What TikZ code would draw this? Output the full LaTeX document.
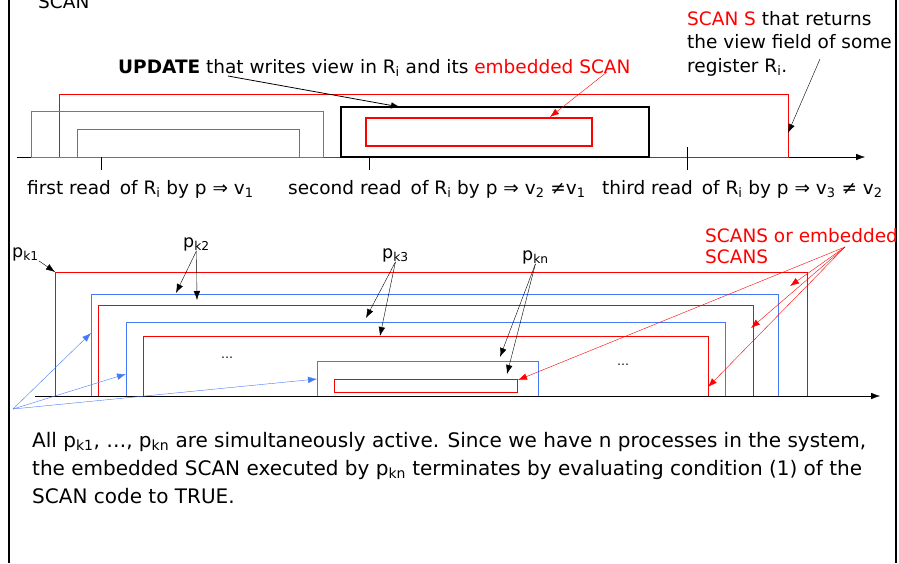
\documentclass[tikz,border=0pt]{standalone}
\usepackage{fontspec}
\setmainfont{DejaVu Sans}
\usepackage{xcolor}
\usetikzlibrary{arrows.meta}

\definecolor{pblue}{RGB}{70,120,250}
\definecolor{pgreen}{RGB}{50,150,90}

\begin{document}
\begin{tikzpicture}[x=1pt,y=-1pt,
        lbl/.style={anchor=base west,inner sep=0pt,font=\fontsize{18.5}{22}\selectfont},
        plbl/.style={anchor=base west,inner sep=0pt,font=\fontsize{17.5}{20}\selectfont},
        txt/.style={anchor=base west,inner sep=0pt,font=\fontsize{20}{24}\selectfont},
        dots/.style={inner sep=0pt,font=\fontsize{12}{14}\selectfont},
        arr/.style={-{Latex[length=9pt,width=6.5pt]}}]
    \useasboundingbox (0,0) rectangle (899,563);

    % frame
    \draw[line width=1.6pt] (9,0) -- (9,563) (896,0) -- (896,563);

    % upper time line
    \node[lbl] (scan) at (38,8) {SCAN};
    \node[lbl] (upd) at (118,73) {\textbf{UPDATE} that writes view in R\textsubscript{i} and its \textcolor{red}{embedded SCAN}};
    \node[lbl] (s1) at (687,25) {\textcolor{red}{SCAN S} that returns};
    \node[lbl] (s2) at (687,48) {the view field of some};
    \node[lbl] (s3) at (687,72) {register R\textsubscript{i}.};

    \coordinate (t0) at (17,157);
    \coordinate (t1) at (865,157);
    \draw[arr] (t0) -- (t1);

    \draw[red,semithick] (59,157) rectangle (788,94);
    \draw[pblue,thick] (31,157) rectangle (323,111);
    \draw[pgreen,thick] (77,157) rectangle (299,129);
    \draw[line width=2.4pt] (341,157) rectangle (649,107);
    \draw[red,line width=1.8pt] (366,146) rectangle (592,118);

    \draw (101,157) -- (101,170) (369,157) -- (369,170) (687,147) -- (687,170);

    \node[lbl] (r1) at (27,194) {first read\, of R\textsubscript{i} by p ⇒ v\textsubscript{1}};
    \node[lbl] (r2) at (288,194) {second read\, of R\textsubscript{i} by p ⇒ v\textsubscript{2} ≠v\textsubscript{1}};
    \node[lbl] (r3) at (602,194) {third read\, of R\textsubscript{i} by p ⇒ v\textsubscript{3} ≠ v\textsubscript{2}};

    \coordinate (that) at (228,76);
    \coordinate (ub) at (400,107);
    \coordinate (emb) at (607,72);
    \coordinate (eb) at (550,117);
    \coordinate (ss) at (820,59);
    \coordinate (sb) at (788,133);
    \draw[arr,thick] (that) -- (ub);
    \draw[arr,red] (emb) -- (eb);
    \draw[arr] (ss) -- (sb);

    % lower time line
    \coordinate (b0) at (35,396);
    \coordinate (b1) at (880,396);
    \draw[arr] (b0) -- (b1);

    \draw[red,thick] (55,396) |- (807,272) -- (807,396);
    \draw[pblue,thick] (91,396) |- (778,294) -- (778,396);
    \draw[red,thick] (98,396) |- (753,305) -- (753,396);
    \draw[pblue,thick] (126,396) |- (725,322) -- (725,396);
    \draw[red,thick] (143,396) |- (708,336) -- (708,396);
    \draw[pblue,thick] (317,396) |- (538,361) -- (538,396);
    \draw[red,thick] (334,379) rectangle (517,392);

    \node[dots] (d1) at (227,358) {…};
    \node[dots] (d2) at (623,365) {…};

    \node[plbl] (pk1) at (12,257) {p\textsubscript{k1}};
    \node[plbl] (pk2) at (183,247) {p\textsubscript{k2}};
    \node[plbl] (pk3) at (382,258) {p\textsubscript{k3}};
    \node[plbl] (pkn) at (522,260) {p\textsubscript{kn}};
    \node[lbl,red] (sc1) at (705,242) {SCANS or embedded};
    \node[lbl,red] (sc2) at (705,263) {SCANS};

    \coordinate (a1) at (55,272);
    \coordinate (a2) at (176,293);
    \coordinate (a3) at (197,300);
    \coordinate (a4) at (366,318);
    \coordinate (a5) at (380,336);
    \coordinate (a6) at (500,357);
    \coordinate (a7) at (507,374);
    \draw[arr] (pk1.south east) -- (a1);
    \draw[arr] (pk2.south) -- (a2);
    \draw[arr] (pk2.south) -- (a3);
    \draw[arr] (pk3.south) -- (a4);
    \draw[arr] (pk3.south) -- (a5);
    \draw[arr] (pkn.south) -- (a6);
    \draw[arr] (pkn.south) -- (a7);

    \coordinate (sc) at (845,247);
    \coordinate (c1) at (790,286);
    \coordinate (c2) at (751,328);
    \coordinate (c3) at (708,387);
    \coordinate (c4) at (518,380);
    \draw[arr,red] (sc) -- (c1);
    \draw[arr,red] (sc) -- (c2);
    \draw[arr,red] (sc) -- (c3);
    \draw[arr,red,thin] (sc) -- (c4);

    \coordinate (bl) at (13,409);
    \coordinate (e1) at (91,333);
    \coordinate (e2) at (126,374);
    \coordinate (e3) at (317,379);
    \draw[arr,pblue] (bl) -- (e1);
    \draw[arr,pblue] (bl) -- (e2);
    \draw[arr,pblue] (bl) -- (e3);

    % remark
    \node[txt] (m1) at (32,447) {All p\textsubscript{k1}, …, p\textsubscript{kn} are simultaneously active. Since we have n processes in the system,};
    \node[txt] (m2) at (32,475) {the embedded SCAN executed by p\textsubscript{kn} terminates by evaluating condition (1) of the};
    \node[txt] (m3) at (32,503) {SCAN code to TRUE.};
\end{tikzpicture}
\end{document}
